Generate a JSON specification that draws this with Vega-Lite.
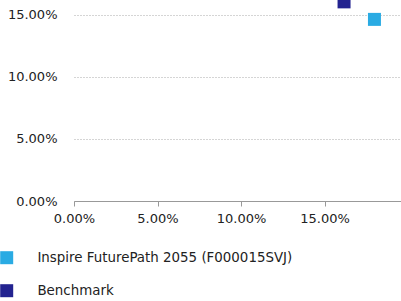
{
  "$schema": "https://vega.github.io/schema/vega-lite/v6.json",
  "width": 327,
  "height": 201,
  "autosize": "none",
  "padding": {"left": 74, "top": 0, "right": 0, "bottom": 100},
  "background": "white",
  "config": {
    "font": "DejaVu Sans",
    "view": {"stroke": null},
    "axis": {"labelFont": "DejaVu Sans", "labelFontSize": 13, "labelColor": "#222222", "title": null, "labelFlush": false}
  },
  "data": {
    "values": [
      {"name": "Inspire FuturePath 2055 (F000015SVJ)", "risk": 0.1799, "ret": 0.1462},
      {"name": "Benchmark", "risk": 0.1617, "ret": 0.1603}
    ]
  },
  "mark": {"type": "square", "size": 169, "opacity": 1, "filled": true},
  "encoding": {
    "x": {
      "field": "risk", "type": "quantitative",
      "scale": {"domain": [0, 0.1958], "nice": false, "zero": true},
      "axis": {"format": ".2%", "values": [0, 0.05, 0.1, 0.15], "grid": false, "domainColor": "#999999", "tickColor": "#999999", "tickSize": 5, "labelPadding": 6, "labelFlush": false}
    },
    "y": {
      "field": "ret", "type": "quantitative",
      "scale": {"domain": [0, 0.1618], "nice": false},
      "axis": {"format": ".2%", "values": [0, 0.05, 0.1, 0.15], "grid": true, "gridDash": [1, 2], "gridColor": "#aaaaaa", "domain": false, "ticks": false, "tickSize": 0, "labelPadding": 17, "labelFlush": false}
    },
    "color": {
      "field": "name", "type": "nominal",
      "scale": {"domain": ["Inspire FuturePath 2055 (F000015SVJ)", "Benchmark"], "range": ["#2AABE3", "#232390"]},
      "legend": {
        "title": null, "orient": "none", "legendX": -74, "legendY": 251, "direction": "vertical",
        "symbolType": "square", "symbolSize": 169, "symbolStrokeWidth": 0, "symbolOpacity": 1,
        "labelFont": "DejaVu Sans", "labelFontSize": 13.4, "labelColor": "#222222", "labelOffset": 24,
        "rowPadding": 18, "labelLimit": 400
      }
    }
  }
}
